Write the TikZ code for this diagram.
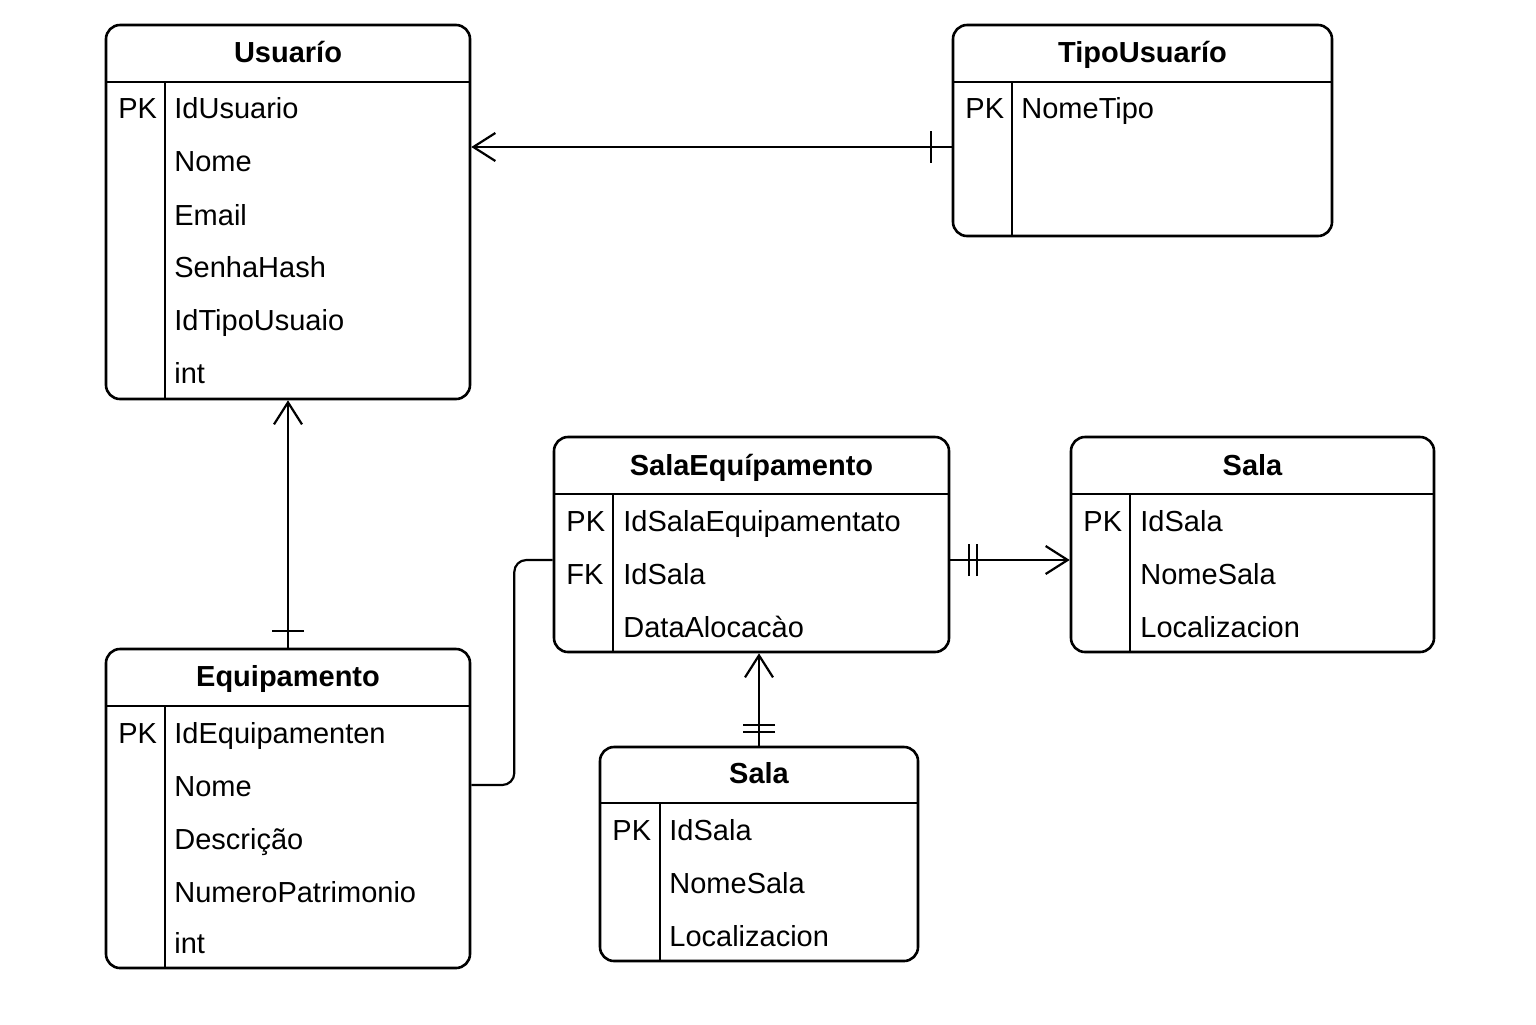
\documentclass[tikz,border=0pt]{standalone}
\usepackage{fontspec}
\setmainfont{Liberation Sans}
\usetikzlibrary{arrows.meta,decorations.markings,positioning}

\newcommand{\barmark}{\draw[arrows=-,line width=1.1pt] (0pt,-8pt) -- (0pt,8pt);}

\tikzset{
  tbl/.style={draw=black,line width=1.3pt,rounded corners=7pt,inner sep=0pt},
  rule/.style={draw=black,line width=1.3pt},
  fld/.style={anchor=base west,inner sep=0pt,font=\fontsize{14.5}{17}\selectfont},
  ttl/.style={anchor=base,inner sep=0pt,font=\fontsize{14.5}{17}\selectfont\bfseries},
  rel/.style={draw=black,line width=1.1pt},
  crow/.style={-{Straight Barb[length=11pt,width=14pt]}},
  marked/.style={postaction=decorate}
}

\begin{document}
\begin{tikzpicture}[x=0.5pt,y=-0.5pt]
  \useasboundingbox (0,0) rectangle (1536,1024);

  % Usuario
  \node[tbl,minimum width=182pt,minimum height=187pt] (usr) at (288,212) {};
  \draw[rule] (106,82) -- (470,82);
  \draw[rule] (165,82) -- (165,399);
  \node[ttl] (usr-t) at (288,62) {Usuarío};
  \node[fld] (usr-pk) at (118,118) {PK};
  \node[fld] (usr-a) at (174,118) {IdUsuario};
  \node[fld] (usr-b) at (174,171) {Nome};
  \node[fld] (usr-c) at (174,225) {Email};
  \node[fld] (usr-d) at (174,277) {SenhaHash};
  \node[fld] (usr-e) at (174,330) {IdTipoUsuaio};
  \node[fld] (usr-f) at (174,383) {int};

  % TipoUsuario
  \node[tbl,minimum width=189.5pt,minimum height=105.5pt] (tipo) at (1142.5,130.5) {};
  \draw[rule] (953,82) -- (1332,82);
  \draw[rule] (1012,82) -- (1012,236);
  \node[ttl] (tipo-t) at (1142.5,62) {TipoUsuarío};
  \node[fld] (tipo-pk) at (965,118) {PK};
  \node[fld] (tipo-a) at (1021,118) {NomeTipo};

  % SalaEquipamento
  \node[tbl,minimum width=197.5pt,minimum height=107.5pt] (salaeq) at (751.5,544.5) {};
  \draw[rule] (554,494) -- (949,494);
  \draw[rule] (613,494) -- (613,652);
  \node[ttl] (salaeq-t) at (751.5,475) {SalaEquípamento};
  \node[fld] (salaeq-pk) at (566,531) {PK};
  \node[fld] (salaeq-fk) at (566,584) {FK};
  \node[fld] (salaeq-a) at (623,531) {IdSalaEquipamentato};
  \node[fld] (salaeq-b) at (623,584) {IdSala};
  \node[fld] (salaeq-c) at (623,637) {DataAlocacào};

  % Sala (right)
  \node[tbl,minimum width=181.5pt,minimum height=107.5pt] (sala) at (1252.5,544.5) {};
  \draw[rule] (1071,494) -- (1434,494);
  \draw[rule] (1130,494) -- (1130,652);
  \node[ttl] (sala-t) at (1252.5,475) {Sala};
  \node[fld] (sala-pk) at (1083,531) {PK};
  \node[fld] (sala-a) at (1140,531) {IdSala};
  \node[fld] (sala-b) at (1140,584) {NomeSala};
  \node[fld] (sala-c) at (1140,637) {Localizacion};

  % Equipamento
  \node[tbl,minimum width=182pt,minimum height=159.5pt] (equip) at (288,808.5) {};
  \draw[rule] (106,706) -- (470,706);
  \draw[rule] (165,706) -- (165,968);
  \node[ttl] (equip-t) at (288,686) {Equipamento};
  \node[fld] (equip-pk) at (118,743) {PK};
  \node[fld] (equip-a) at (174,743) {IdEquipamenten};
  \node[fld] (equip-b) at (174,796) {Nome};
  \node[fld] (equip-c) at (174,849) {Descrição};
  \node[fld] (equip-d) at (174,902) {NumeroPatrimonio};
  \node[fld] (equip-e) at (174,953) {int};

  % Sala (bottom)
  \node[tbl,minimum width=159pt,minimum height=107pt] (salab) at (759,854) {};
  \draw[rule] (600,803) -- (918,803);
  \draw[rule] (660,803) -- (660,961);
  \node[ttl] (salab-t) at (759,783) {Sala};
  \node[fld] (salab-pk) at (612,840) {PK};
  \node[fld] (salab-a) at (669,840) {IdSala};
  \node[fld] (salab-b) at (669,893) {NomeSala};
  \node[fld] (salab-c) at (669,946) {Localizacion};

  % relations
  \draw[rel,crow,marked,decoration={markings,mark=at position 10.5pt with {\barmark}}]
    (tipo.west |- 0,147) -- (usr.east |- 0,147);
  \draw[rel,crow,marked,decoration={markings,mark=at position 8.5pt with {\barmark}}]
    (equip.north) -- (usr.south);
  \draw[rel,rounded corners=6pt] (equip.east |- 0,785) -- ++(43,0) |- (salaeq.west |- 0,560);
  \draw[rel,crow,marked,decoration={markings,mark=at position 9.5pt with {\barmark},
      mark=at position 13.5pt with {\barmark}}]
    (salaeq.east |- 0,560) -- (sala.west |- 0,560);
  \draw[rel,crow,marked,decoration={markings,mark=at position 7pt with {\barmark},
      mark=at position 10.5pt with {\barmark}}]
    (salab.north) -- (salaeq.south -| salab.north);
\end{tikzpicture}
\end{document}
